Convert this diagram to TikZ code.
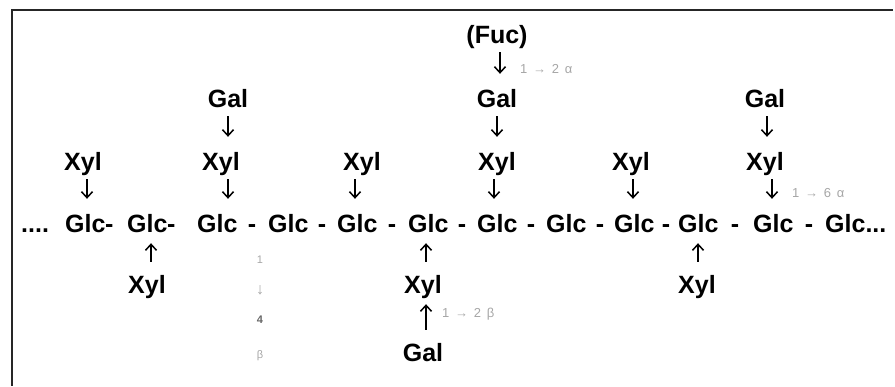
\documentclass[tikz,border=0pt]{standalone}
\usepackage{fontspec}
\setmainfont{Liberation Sans}
\usetikzlibrary{arrows.meta}
\begin{document}
\begin{tikzpicture}[x=1pt,y=-1pt,
  sug/.style={font=\fontsize{25}{25}\selectfont\bfseries, inner sep=0pt, text height=18pt, text depth=0pt, anchor=base},
  sugw/.style={sug, anchor=base west},
  lnk/.style={font=\fontsize{13}{13}\selectfont, text=black!35, inner sep=0pt, anchor=base west},
  vlnk/.style={font=\fontsize{11}{11}\selectfont, text=black!35, inner sep=0pt, anchor=base},
  arr/.style={line width=1.7pt, -{Straight Barb[length=6pt,width=11pt,line width=1.5pt]}},
  dn/.style={arr, shorten <=9pt, shorten >=15pt},
  up/.style={arr, shorten <=13pt, shorten >=11pt}]
\useasboundingbox (0,0) rectangle (895,386);
\draw[line width=1.4pt, black!85] (893,10) -- (12,10) -- (12,386);

% top substituents
\node[sug] (fuc) at (497,43) {(Fuc)};
\node[sug] (ga1) at (228,107) {Gal};
\node[sug] (ga2) at (497,107) {Gal};
\node[sug] (ga3) at (765,107) {Gal};
\node[sug] (xa1) at (83,170) {Xyl};
\node[sug] (xa2) at (221,170) {Xyl};
\node[sug] (xa3) at (362,170) {Xyl};
\node[sug] (xa4) at (497,170) {Xyl};
\node[sug] (xa5) at (631,170) {Xyl};
\node[sug] (xa6) at (765,170) {Xyl};

% backbone
\node[sugw] (dots) at (21,232) {....};
\node[sugw] (g1) at (65,232) {Glc};
\node[sugw] (h1) at (105,232) {-};
\node[sugw] (g2) at (127,232) {Glc};
\node[sugw] (h2) at (167,232) {-};
\node[sugw] (g3) at (197,232) {Glc};
\node[sug] (h3) at (252,232) {-};
\node[sugw] (g4) at (268,232) {Glc};
\node[sug] (h4) at (322,232) {-};
\node[sugw] (g5) at (337,232) {Glc};
\node[sug] (h5) at (392,232) {-};
\node[sugw] (g6) at (408,232) {Glc};
\node[sug] (h6) at (462,232) {-};
\node[sugw] (g7) at (477,232) {Glc};
\node[sug] (h7) at (531,232) {-};
\node[sugw] (g8) at (546,232) {Glc};
\node[sug] (h8) at (600,232) {-};
\node[sugw] (g9) at (614,232) {Glc};
\node[sug] (h9) at (666,232) {-};
\node[sugw] (g10) at (678,232) {Glc};
\node[sug] (h10) at (735,232) {-};
\node[sugw] (g11) at (753,232) {Glc};
\node[sug] (h11) at (809,232) {-};
\node[sugw] (g12) at (825,232) {Glc...};

% lower substituents
\node[sug] (xb1) at (147,293) {Xyl};
\node[sug] (xb2) at (423,293) {Xyl};
\node[sug] (xb3) at (697,293) {Xyl};
\node[sug] (gb) at (423,361) {Gal};

% down arrows
\draw[dn] ([xshift=3pt]fuc.south) -- ([xshift=3pt]fuc.south |- ga2.north);
\draw[dn] (ga1.south) -- (ga1.south |- xa2.north);
\draw[dn] (ga2.south) -- (ga2.south |- xa4.north);
\draw[dn] ([xshift=2pt]ga3.south) -- ([xshift=2pt]ga3.south |- xa6.north);
\draw[dn] ([xshift=4pt]xa1.south) -- ([xshift=4pt]xa1.south |- g1.north);
\draw[dn] ([xshift=7pt]xa2.south) -- ([xshift=7pt]xa2.south |- g3.north);
\draw[dn] ([xshift=-7pt]xa3.south) -- ([xshift=-7pt]xa3.south |- g5.north);
\draw[dn] ([xshift=-3pt]xa4.south) -- ([xshift=-3pt]xa4.south |- g7.north);
\draw[dn] ([xshift=2pt]xa5.south) -- ([xshift=2pt]xa5.south |- g9.north);
\draw[dn] ([xshift=7pt]xa6.south) -- ([xshift=7pt]xa6.south |- g11.north);

% up arrows
\draw[up] ([xshift=4pt]xb1.north) -- ([xshift=4pt]xb1.north |- g2.south);
\draw[up] ([xshift=3pt]xb2.north) -- ([xshift=3pt]xb2.north |- g6.south);
\draw[up] ([xshift=1pt]xb3.north) -- ([xshift=1pt]xb3.north |- g10.south);
\draw[up] ([xshift=3pt]gb.north) -- ([xshift=3pt]gb.north |- xb2.south);

% linkage labels
\node[lnk] (l1) at (520,73) {1 \,→\, 2 \,α};
\node[lnk] (l2) at (792,197) {1 \,→\, 6 \,α};
\node[lnk] (l3) at (442,317) {1 \,→\, 2 \,β};
\node[vlnk] (v1) at (260,263) {1};
\node[vlnk, font=\fontsize{16}{16}\selectfont] (v2) at (260,294) {↓};
\node[vlnk, text=black!60, font=\fontsize{11}{11}\selectfont\bfseries] (v3) at (260,323) {4};
\node[vlnk] (v4) at (260,358) {β};
\end{tikzpicture}
\end{document}
